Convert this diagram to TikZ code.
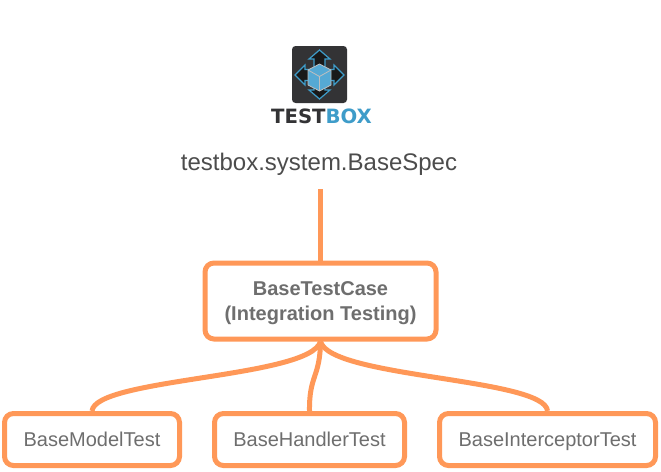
\documentclass[tikz,border=0pt]{standalone}
\usepackage{fontspec}
\setmainfont{Liberation Sans}
\newfontfamily\logofont{DejaVu Sans}
\usetikzlibrary{calc}
\definecolor{edgeor}{HTML}{FF9858}
\definecolor{txtgr}{HTML}{6E6E6E}
\definecolor{logodk}{HTML}{333335}
\definecolor{logobl}{HTML}{3E9CC9}
\definecolor{logomd}{HTML}{55A9D4}
\tikzset{
  x=1pt,y=-1pt,
  box/.style={draw=edgeor,line width=5pt,rounded corners=9pt,fill=white,inner sep=0pt,text=txtgr,align=center},
  conn/.style={draw=edgeor,line width=5pt},
  small/.style={font=\fontsize{20}{24}\selectfont,text height=17pt,text depth=4pt},
  arrowb/.style={draw=logobl,line width=1.2pt,fill=black!90,line join=miter}
}
\begin{document}
\begin{tikzpicture}
\useasboundingbox (0,0) rectangle (661,471);
% logo
\fill[logodk,rounded corners=3.5pt] (292,46) rectangle (347,103);
\draw[arrowb] (319.5,50) -- (330,59) -- (325,59) -- (325,72) -- (314,72) -- (314,59) -- (309,59) -- cycle;
\draw[arrowb] (319.5,99) -- (330,90) -- (325,90) -- (325,80) -- (314,80) -- (314,90) -- (309,90) -- cycle;
\draw[arrowb] (295,75) -- (305,65) -- (305,69.5) -- (315,69.5) -- (315,80.5) -- (305,80.5) -- (305,85) -- cycle;
\draw[arrowb] (344,75) -- (334,65) -- (334,69.5) -- (324,69.5) -- (324,80.5) -- (334,80.5) -- (334,85) -- cycle;
\fill[logomd,draw=black!25,line width=.8pt,line join=round] (319.5,64) -- (331,70) -- (331,85) -- (319.5,91) -- (308,85) -- (308,70) -- cycle;
\draw[black!25,line width=.8pt] (308,70) -- (319.5,76.5) -- (331,70) (319.5,76.5) -- (319.5,91);
\node[inner sep=0pt,anchor=base,font=\logofont\fontsize{19.7}{24}\bfseries\selectfont] (logotext) at (321.5,123.5) {\textcolor{logodk}{TEST}\textcolor{logobl}{BOX}};
\node[inner sep=0pt,anchor=base,text=black!70,font=\fontsize{24}{28}\selectfont] (title) at (319,170) {testbox.system.BaseSpec};
% boxes
\node[box,minimum width=231pt,minimum height=76pt,font=\fontsize{20}{24.5}\bfseries\selectfont] (main) at (320.5,301) {\rule{0pt}{18pt}BaseTestCase\\(Integration Testing)};
\node[box,small,minimum width=175pt,minimum height=52pt] (model) at (92,439.5) {BaseModelTest};
\node[box,small,minimum width=190pt,minimum height=52pt] (handler) at (309.5,439.5) {BaseHandlerTest};
\node[box,small,minimum width=216pt,minimum height=52pt] (inter) at (547.5,439.5) {BaseInterceptorTest};
% connectors
\coordinate (top) at (320.5,189);
\draw[conn] (top) -- (main.north);
\draw[conn] (main.south) .. controls (310,378) and (95,378) .. (model.north);
\draw[conn] (main.south) .. controls (320,378) and (309,375) .. (handler.north);
\draw[conn] (main.south) .. controls (330,378) and (545,378) .. (inter.north);
\end{tikzpicture}
\end{document}
